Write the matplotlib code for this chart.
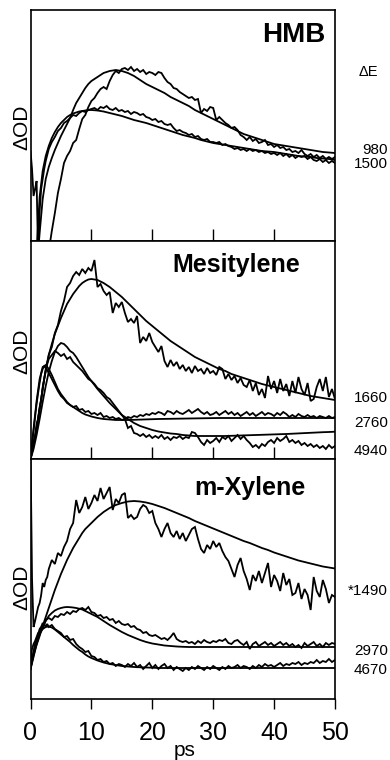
import numpy as np
import matplotlib
matplotlib.use("Agg")
import matplotlib.pyplot as plt

plt.rcParams['font.family'] = ['Liberation Sans', 'DejaVu Sans']

# ---------------- sampling times (ps) ----------------
t_data = np.concatenate([np.arange(0, 3, 0.25), np.arange(3, 50.001, 0.5)])
t_fit = np.concatenate([np.arange(0, 10.01, 0.5), np.arange(11, 50.01, 1.0)])

x_ticks = [0, 10, 20, 30, 40, 50]
panel_titles = ["HMB", "Mesitylene", "m-Xylene"]

# ---------------- HMB (arbitrary ΔOD units) ----------------
hmb_labels = ["980", "1500"]
hmb_fit_980 = [-40, -40, -30, 8, 42, 62, 74, 83, 91, 98, 105, 111, 117, 123, 131, 138, 143, 148, 153, 157, 160,
               164, 168, 170, 171, 170, 168, 165, 161, 157, 154,
               151, 148, 144, 141, 138, 135, 131, 128, 125, 122,
               119, 116, 113, 110, 107, 105, 103, 101, 99, 97,
               96, 95, 94, 93, 92, 91, 90, 89, 88.5, 88]
hmb_fit_1500 = [-40, -40, -10, 44, 70, 85, 95, 103, 109, 114, 118, 121, 124, 126, 127.5, 128.5, 129.5, 130, 130.5, 131, 131,
                130.5, 129.5, 128, 126.5, 125, 123, 121, 119.5, 118, 116,
                114, 112, 110, 108, 106, 104.5, 103, 101, 99.5, 98,
                97, 96, 95, 94, 93, 92, 91, 90, 89.5, 89,
                88, 87, 86, 85, 84.5, 84, 83, 82.5, 82, 81]
hmb_data_980 = [-30, -30, -30, -30, -30, -30, -30, -30, -30, -30, -30, -30,
                -10, 10, 28, 48, 62, 78, 85, 90, 98, 101, 112, 122, 126, 134, 140,
                143, 148, 152, 154, 152, 160, 166, 170, 168, 172,
                173, 171, 174, 170, 172, 169, 171, 167, 169, 168,
                166, 169, 168, 163, 159, 157, 153, 152, 149, 147,
                145, 143, 144, 141, 142, 128, 132, 130, 134, 133,
                121, 124, 121, 118, 116, 113, 114, 111, 106, 104,
                101, 104, 100, 102, 98, 99, 101, 96, 97, 94,
                96, 93, 94, 91, 92, 89, 90, 88, 91, 87,
                85, 87, 84, 86, 83, 85, 82, 84, 82, 84]
hmb_data_1500 = [90, 72, 45, 52, 60, -15, 30, 52, 62, 72, 80, 86,
                 92, 99, 104, 110, 113, 118, 120, 123, 126, 125, 128, 130, 129, 131, 132,
                 133, 131, 134, 133, 135, 132, 131, 133, 130, 131,
                 129, 130, 127, 129, 128, 126, 127, 124, 123, 121,
                 122, 119, 120, 117, 116, 117, 113, 110, 111, 109,
                 108, 106, 107, 104, 105, 102, 101, 102, 99, 99,
                 98, 99, 96, 97, 95, 94, 92, 93, 91, 92,
                 90, 92, 90, 91, 89, 90, 88, 89, 87, 88,
                 86, 88, 85, 87, 84, 86, 83, 85, 84, 85,
                 82, 84, 81, 80, 82, 79, 81, 78, 80, 78]

# ---------------- Mesitylene ----------------
mes_labels = ["1660", "2760", "4940"]
mes_fit_1660 = [0, 14, 32, 50, 70, 90, 104, 115, 125, 133, 141, 148, 155, 160, 165, 169, 173, 176, 178, 179.5, 180,
                179, 176, 172, 167, 162, 156, 150, 144, 138, 133,
                128, 123, 118, 114, 110, 106, 102, 99, 96, 93,
                90, 88, 85, 83, 81, 79, 77, 75, 73.5, 72,
                70.5, 69, 67.5, 66, 64.5, 63, 62, 61, 60, 59]
mes_fit_2760 = [0, 30, 58, 80, 92, 94, 90, 84, 77, 70, 65, 61, 57, 54, 52, 50, 48, 46, 44.5, 43.5, 42.5,
                41, 40, 39.5, 39, 39, 39, 39.2, 39.4, 39.6, 39.8,
                40, 40.1, 40.2, 40.3, 40.4, 40.5, 40.6, 40.7, 40.8, 40.9,
                41, 41, 41, 41, 41, 41, 41, 41, 41, 41,
                41, 41, 41, 41, 41, 41, 41, 41, 41, 41]
mes_fit_4940 = [0, 10, 24, 40, 57, 73, 87, 98, 107, 113, 116, 115, 112, 108, 106, 102, 97, 92, 87, 82, 78,
                70, 63, 56, 50, 44, 40, 36, 33, 31, 29,
                27.5, 26.5, 25.5, 25, 24, 23.5, 23, 23, 23, 23,
                23, 23, 23.2, 23.4, 23.6, 23.8, 24, 24.2, 24.4, 24.6,
                24.8, 25, 25.3, 25.6, 25.9, 26.2, 26.5, 26.8, 27, 27.3]
mes_data_1660 = [0, 8, 18, 22, 35, 40, 52, 58, 72, 80, 88, 96,
                 104, 112, 126, 134, 148, 158, 172, 176, 183, 187, 184, 190, 186, 191, 188,
                 199, 172, 175, 168, 164, 167, 146, 156, 152, 157,
                 146, 137, 140, 136, 143, 116, 122, 118, 126, 117,
                 112, 107, 113, 98, 92, 99, 93, 97, 90, 94,
                 88, 92, 86, 93, 88, 90, 85, 91, 86, 88,
                 84, 92, 90, 80, 85, 79, 83, 76, 81, 74,
                 72, 79, 68, 76, 64, 70, 61, 83, 70, 78,
                 66, 80, 68, 75, 63, 78, 66, 82, 70, 64,
                 76, 58, 60, 72, 80, 68, 82, 62, 70, 60]
mes_data_2760 = [0, 15, 28, 42, 55, 66, 76, 85, 90, 93, 91, 89,
                 86, 80, 74, 68, 63, 60, 56, 54, 52, 53, 49, 50, 47, 48, 45,
                 46, 44, 46, 42, 43, 41, 42, 40, 41, 39,
                 40, 42, 41, 43, 42, 44, 43, 45, 44, 46,
                 45, 47, 46, 44, 48, 47, 45, 48, 46, 45,
                 47, 49, 46, 48, 50, 47, 45, 47, 44, 45,
                 47, 44, 46, 48, 45, 47, 44, 46, 43, 45,
                 47, 44, 46, 43, 45, 47, 44, 46, 45, 43,
                 46, 44, 47, 45, 42, 44, 42, 45, 43, 42,
                 44, 42, 43, 41, 43, 42, 41, 43, 41, 42]
mes_data_4940 = [0, 6, 14, 22, 30, 40, 50, 60, 70, 80, 88, 95,
                 100, 104, 108, 106, 103, 105, 100, 102, 97, 94, 91, 88, 84, 80, 78,
                 75, 71, 69, 66, 62, 60, 56, 52, 48, 44,
                 40, 31, 33, 26, 25, 23, 25, 22, 24, 21,
                 23, 21, 24, 20, 22, 19, 22, 21, 23, 20,
                 22, 21, 27, 26, 22, 17, 14, 19, 16, 18,
                 21, 17, 22, 20, 23, 18, 21, 24, 20, 23,
                 19, 16, 12, 14, 11, 15, 13, 17, 19, 16,
                 21, 18, 20, 23, 17, 19, 16, 18, 14, 16,
                 13, 15, 12, 14, 11, 13, 10, 14, 11, 13]

# ---------------- m-Xylene ----------------
xyl_labels = ["*1490", "2970", "4670"]
xyl_fit_1490 = [30, 44, 54, 63, 73, 82, 91, 100, 109, 117, 125, 132, 139, 145, 151, 156, 161, 166, 170, 173, 176,
                182, 187, 191, 194, 196, 197.5, 198, 197.5, 196.5, 195,
                193, 191, 188.5, 186, 183.5, 181, 178, 175.5, 173, 170.5,
                168, 165.5, 163, 160.5, 158, 156, 153.5, 151, 149, 146.5,
                144.5, 142.5, 140.5, 138.5, 137, 135.5, 134, 132.5, 131.5, 130.5]
xyl_fit_2970 = [30, 42, 55, 65, 73, 78, 83, 86, 88.5, 90, 91, 91.7, 92, 91.8, 91.5, 91, 90.3, 89.5, 88, 86.5, 85,
                82, 78, 74, 70.5, 67, 64, 61.5, 59, 57, 55.5,
                54.5, 53.5, 53, 52.5, 52.2, 52, 52, 52, 52, 52,
                52, 52, 52, 52, 52, 52, 52, 52, 52, 52,
                52, 52, 52, 52, 52, 52, 52, 52, 52, 52]
xyl_fit_4670 = [30, 45, 57, 65, 70, 72, 72.5, 71.5, 69.5, 67, 64.5, 62, 59.5, 57, 54, 51.5, 49, 47, 44.5, 42.5, 41,
                38.5, 36.5, 35, 34, 33, 32.5, 32, 31.7, 31.5, 31.3,
                31, 31, 31, 31, 31, 31, 31, 31, 31, 31,
                31, 31, 31, 31, 31, 31, 31, 31, 31, 31,
                31, 31, 31, 31, 31, 31, 31, 31, 31, 31]
xyl_data_1490 = [250, 120, 72, 78, 85, 92, 96, 104, 116, 112, 119, 122,
                 130, 139, 135, 146, 143, 152, 158, 170, 176, 199, 186, 192, 202, 190, 196,
                 204, 198, 211, 200, 206, 212, 189, 200, 196, 204,
                 206, 181, 184, 180, 182, 190, 194, 192, 186, 188,
                 176, 170, 162, 170, 176, 166, 162, 168, 160, 166,
                 158, 164, 170, 172, 160, 150, 146, 154, 150, 158,
                 152, 156, 148, 142, 138, 130, 122, 134, 141, 128,
                 120, 109, 124, 118, 128, 116, 126, 136, 112, 124,
                 118, 108, 126, 114, 120, 104, 106, 116, 100, 110,
                 104, 89, 122, 108, 102, 119, 110, 96, 104, 102]
xyl_data_2970 = [45, 40, 48, 55, 60, 64, 70, 72, 76, 74, 79, 80,
                 81, 79, 83, 82, 85, 84, 87, 85, 88, 87, 90, 91, 89, 92, 87,
                 86, 83, 84, 81, 82, 79, 80, 76, 78, 75,
                 74, 75, 72, 73, 70, 69, 66, 67, 64, 63,
                 64, 62, 60, 61, 59, 62, 66, 60, 58, 57,
                 58, 56, 57, 55, 58, 56, 59, 57, 56, 58,
                 57, 59, 58, 60, 56, 55, 58, 59, 56, 54,
                 57, 50, 55, 57, 53, 55, 57, 54, 56, 53,
                 55, 57, 54, 56, 53, 55, 52, 54, 51, 56,
                 53, 55, 57, 53, 55, 52, 56, 54, 56, 55]
xyl_data_4670 = [40, 50, 55, 58, 62, 66, 68, 72, 70, 74, 73, 75,
                 72, 74, 70, 68, 66, 62, 63, 59, 60, 55, 52, 50, 47, 48, 43,
                 42, 39, 40, 37, 38, 35, 36, 33, 35, 34,
                 32, 35, 33, 36, 32, 34, 30, 33, 36, 31,
                 34, 30, 33, 35, 31, 33, 29, 32, 30, 28,
                 31, 29, 32, 30, 33, 31, 29, 32, 30, 33,
                 31, 29, 32, 30, 33, 31, 32, 34, 31, 33,
                 32, 30, 33, 31, 34, 32, 35, 33, 34, 32,
                 34, 36, 33, 35, 34, 36, 35, 37, 34, 36,
                 35, 37, 36, 39, 36, 38, 37, 40, 37, 39]

# ---------------- layout (figure pixels, 390 x 760) ----------------
W, H = 390.0, 760.0
x_left, x_right = 30.5, 335.0
panels_px = [(10, 241), (241, 459), (459, 699)]  # (top, bottom)


def pos(top, bottom):
    return [x_left / W, 1 - bottom / H, (x_right - x_left) / W, (bottom - top) / H]


def draw(ax, t, y):
    n = min(len(t), len(y))
    ax.plot(t[:n], y[:n], color='black', lw=1.3, solid_joinstyle='miter')


fig = plt.figure(figsize=(3.9, 7.6), dpi=100)
axes = []
for (top, bottom) in panels_px:
    ax = fig.add_axes(pos(top, bottom))
    ax.set_xlim(0, 50)
    ax.set_ylim(0, bottom - top)
    ax.set_yticks([])
    for s in ax.spines.values():
        s.set_linewidth(1.2)
    axes.append(ax)

ax1, ax2, ax3 = axes

for y in (hmb_fit_980, hmb_fit_1500):
    draw(ax1, t_fit, y)
for y in (hmb_data_980, hmb_data_1500):
    draw(ax1, t_data, y)

for y in (mes_fit_1660, mes_fit_2760, mes_fit_4940):
    draw(ax2, t_fit, y)
for y in (mes_data_1660, mes_data_2760, mes_data_4940):
    draw(ax2, t_data, y)

for y in (xyl_fit_1490, xyl_fit_2970, xyl_fit_4670):
    draw(ax3, t_fit, y)
for y in (xyl_data_1490, xyl_data_2970, xyl_data_4670):
    draw(ax3, t_data, y)

# ticks
for ax in (ax1, ax2):
    ax.set_xticks(x_ticks[1:-1])
    ax.tick_params(axis='x', direction='in', length=8.5, width=1.0, labelbottom=False)
ax3.set_xticks(x_ticks)
ax3.set_xticklabels([str(v) for v in x_ticks])
ax3.tick_params(axis='x', direction='out', length=7, width=1.0, pad=9, labelsize=18)


def fx(px):
    return px / W


def fy(py):
    return 1 - py / H


# titles inside panels
fig.text(fx(325), fy(35), panel_titles[0], fontsize=20, fontweight='bold', ha='right', va='center')
fig.text(fx(300), fy(265), panel_titles[1], fontsize=18, fontweight='bold', ha='right', va='center')
fig.text(fx(305), fy(488), panel_titles[2], fontsize=18, fontweight='bold', ha='right', va='center')

# y labels
for yc in (127, 351, 587):
    fig.text(fx(22), fy(yc), "ΔOD", fontsize=15, rotation=90, ha='center', va='center')

# x label
fig.text(fx(185), fy(750), "ps", fontsize=15, ha='center', va='center')

# right-side energy labels
fig.text(fx(368), fy(72), "ΔE", fontsize=10.5, ha='center', va='center')
right_labels = [(hmb_labels[0], 150), (hmb_labels[1], 164),
                (mes_labels[0], 398), (mes_labels[1], 423), (mes_labels[2], 451),
                (xyl_labels[0], 591), (xyl_labels[1], 651), (xyl_labels[2], 670)]
for txt, yc in right_labels:
    fig.text(fx(388), fy(yc), txt, fontsize=11, ha='right', va='center')

fig.savefig("out.png", dpi=100)
